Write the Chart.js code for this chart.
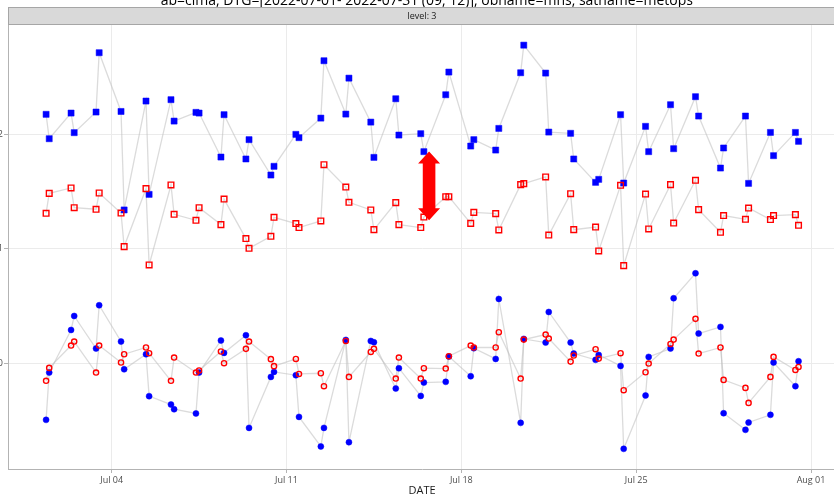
<!DOCTYPE html>
<html>
<head>
<meta charset="utf-8">
<script src="https://cdn.jsdelivr.net/npm/chart.js@4/dist/chart.umd.min.js"></script>
<style>
    html, body { margin: 0; padding: 0; background: #fff; overflow: hidden; }
    #wrap { width: 842px; height: 497px; }
</style>
</head>
<body>
<div id="wrap"><canvas id="myChart" width="842" height="497"></canvas></div>
<script>
const days = [
    '2022-07-01', '2022-07-02', '2022-07-03', '2022-07-04', '2022-07-05', '2022-07-06', '2022-07-07', '2022-07-08',
    '2022-07-09', '2022-07-10', '2022-07-11', '2022-07-12', '2022-07-13', '2022-07-14', '2022-07-15', '2022-07-16',
    '2022-07-17', '2022-07-18', '2022-07-19', '2022-07-20', '2022-07-21', '2022-07-22', '2022-07-23', '2022-07-24',
    '2022-07-25', '2022-07-26', '2022-07-27', '2022-07-28', '2022-07-29', '2022-07-30', '2022-07-31'
];
const cycles = ['09', '12'];

// one value per (day, cycle), in date order
const stdFg = [
    2.175, 1.962, 2.186, 2.015, 2.195, 2.713, 2.200, 1.340, 2.291, 1.476,
    2.303, 2.116, 2.192, 2.186, 1.802, 2.172, 1.785, 1.954, 1.645, 1.721,
    2.000, 1.971, 2.142, 2.643, 2.177, 2.491, 2.107, 1.799, 2.311, 1.994,
    2.006, 1.849, 2.346, 2.544, 1.898, 1.954, 1.863, 2.052, 2.538, 2.779,
    2.535, 2.020, 2.009, 1.785, 1.581, 1.607, 2.172, 1.575, 2.070, 1.849,
    2.259, 1.875, 2.329, 2.160, 1.706, 1.881, 2.160, 1.572, 2.017, 1.814,
    2.017, 1.939
];
const stdAn = [
    1.311, 1.485, 1.532, 1.360, 1.346, 1.488, 1.313, 1.020, 1.526, 0.860,
    1.558, 1.302, 1.250, 1.360, 1.212, 1.435, 1.090, 1.005, 1.110, 1.276,
    1.221, 1.186, 1.244, 1.735, 1.540, 1.407, 1.340, 1.168, 1.404, 1.212,
    1.186, 1.278, 1.456, 1.456, 1.223, 1.319, 1.308, 1.165, 1.561, 1.570,
    1.628, 1.121, 1.482, 1.168, 1.191, 0.982, 1.555, 0.854, 1.479, 1.174,
    1.561, 1.226, 1.599, 1.343, 1.145, 1.291, 1.258, 1.357, 1.256, 1.291,
    1.299, 1.206
];
const biasFg = [
    -0.493, -0.080, 0.292, 0.414, 0.130, 0.508, 0.191, -0.051, 0.080, -0.286,
    -0.359, -0.400, -0.437, -0.080, 0.200, 0.092, 0.246, -0.563, -0.118, -0.074,
    -0.103, -0.467, -0.725, -0.563, 0.205, -0.688, 0.196, 0.185, -0.219, -0.042,
    -0.284, -0.167, -0.161, 0.060, -0.112, 0.133, 0.039, 0.563, -0.519, 0.214,
    0.182, 0.449, 0.182, 0.086, 0.031, 0.074, -0.022, -0.746, -0.280, 0.057,
    0.130, 0.569, 0.787, 0.261, 0.319, -0.435, -0.580, -0.516, -0.449, 0.008,
    -0.199, 0.019
];
const biasAn = [
    -0.152, -0.039, 0.156, 0.191, -0.080, 0.156, 0.008, 0.080, 0.139, 0.089,
    -0.152, 0.051, -0.080, -0.062, 0.104, 0.002, 0.127, 0.191, 0.037, -0.024,
    0.039, -0.092, -0.086, -0.199, 0.196, -0.118, 0.100, 0.127, -0.132, 0.051,
    -0.132, -0.042, -0.045, 0.063, 0.156, 0.139, 0.139, 0.272, -0.132, 0.208,
    0.252, 0.217, 0.016, 0.069, 0.124, 0.042, 0.089, -0.234, -0.077, -0.001,
    0.170, 0.208, 0.389, 0.086, 0.139, -0.144, -0.214, -0.345, -0.118, 0.057,
    -0.057, -0.031
];

const tickDates = ['2022-07-04', '2022-07-11', '2022-07-18', '2022-07-25', '2022-08-01'];
const tickLabels = ['Jul 04', 'Jul 11', 'Jul 18', 'Jul 25', 'Aug 01'];
const yTicks = [0, 1, 2];

const arrowAt = ['2022-07-16', '17'];
const arrowSpan = [1.85, 1.25];

const titleText = 'ab=cima, DTG=[2022-07-01- 2022-07-31 (09, 12)], obname=mhs, satname=metops';
const panelText = 'level: 3';

const t0 = Date.parse('2022-07-01T00:00Z');
function toDay(d, hh = '00') {
    return (Date.parse(d + 'T' + hh + ':00Z') - t0) / 86400000;
}
const xs = days.flatMap(d => cycles.map(c => toDay(d, c)));
const pts = vals => vals.map((v, i) => ({ x: xs[i], y: v }));

const FONT = '"Open Sans", "Noto Sans", sans-serif';
const lineGray = 'rgba(190, 190, 190, 0.55)';

function lineSet(vals) {
    return { data: pts(vals), showLine: true, borderColor: lineGray, borderWidth: 1.3, pointRadius: 0, order: 10 };
}

const decor = {
    id: 'decor',
    beforeDraw(chart) {
        const { ctx, chartArea } = chart;
        ctx.save();
        // title, its upper half is cut off in the reference
        ctx.font = '14px ' + FONT;
        ctx.fillStyle = '#000';
        ctx.textAlign = 'right';
        ctx.textBaseline = 'alphabetic';
        ctx.fillText(titleText, 693, 5);
        // facet strip
        ctx.fillStyle = '#d9d9d9';
        ctx.fillRect(chartArea.left, 7, chart.width - chartArea.left, 18);
        ctx.strokeStyle = '#a6a6a6';
        ctx.lineWidth = 1;
        ctx.beginPath();
        ctx.moveTo(chartArea.left, 7.5); ctx.lineTo(chart.width, 7.5);
        ctx.moveTo(chartArea.left, 24.5); ctx.lineTo(chart.width, 24.5);
        ctx.moveTo(chartArea.left + 0.5, 7); ctx.lineTo(chartArea.left + 0.5, 25);
        ctx.stroke();
        ctx.font = '9px ' + FONT;
        ctx.fillStyle = '#1a1a1a';
        ctx.textAlign = 'center';
        ctx.textBaseline = 'middle';
        ctx.fillText(panelText, (chartArea.left + chartArea.right) / 2, 16);
        ctx.restore();
    },
    afterDatasetsDraw(chart) {
        const { ctx, scales } = chart;
        const x = scales.x.getPixelForValue(toDay(arrowAt[0], arrowAt[1]));
        const y1 = scales.y.getPixelForValue(arrowSpan[0]);
        const y2 = scales.y.getPixelForValue(arrowSpan[1]);
        const hw = 11, sw = 6.3, hl = 12;
        ctx.save();
        ctx.fillStyle = '#ff0000';
        ctx.beginPath();
        ctx.moveTo(x, y1);
        ctx.lineTo(x + hw, y1 + hl);
        ctx.lineTo(x + sw, y1 + hl);
        ctx.lineTo(x + sw, y2 - hl);
        ctx.lineTo(x + hw, y2 - hl);
        ctx.lineTo(x, y2);
        ctx.lineTo(x - hw, y2 - hl);
        ctx.lineTo(x - sw, y2 - hl);
        ctx.lineTo(x - sw, y1 + hl);
        ctx.lineTo(x - hw, y1 + hl);
        ctx.closePath();
        ctx.fill();
        ctx.restore();
    }
};

const ctx = document.getElementById('myChart').getContext('2d');
const myChart = new Chart(ctx, {
    type: 'scatter',
    data: {
        datasets: [
            lineSet(stdFg),
            lineSet(stdAn),
            lineSet(biasFg),
            lineSet(biasAn),
            {
                label: 'fg stdev', data: pts(stdFg), pointStyle: 'rect', pointRadius: 4.3,
                backgroundColor: '#0000ff', borderColor: '#0000ff', borderWidth: 0.5, order: 3
            },
            {
                label: 'an stdev', data: pts(stdAn), pointStyle: 'rect', pointRadius: 4.0,
                backgroundColor: 'rgba(0,0,0,0)', borderColor: '#ff0000', borderWidth: 1.4, order: 2
            },
            {
                label: 'fg bias', data: pts(biasFg), pointStyle: 'circle', pointRadius: 3,
                backgroundColor: '#0000ff', borderColor: '#0000ff', borderWidth: 0.5, order: 3
            },
            {
                label: 'an bias', data: pts(biasAn), pointStyle: 'circle', pointRadius: 2.6,
                backgroundColor: 'rgba(0,0,0,0)', borderColor: '#ff0000', borderWidth: 1.4, order: 2
            }
        ]
    },
    options: {
        responsive: false,
        animation: false,
        devicePixelRatio: 1,
        layout: { padding: { top: 25, right: 6, left: 0, bottom: 0 } },
        plugins: {
            legend: { display: false },
            tooltip: { enabled: false }
        },
        elements: { point: { hoverRadius: 0 } },
        scales: {
            x: {
                type: 'linear',
                min: -1.15,
                max: 32.0,
                afterBuildTicks: s => { s.ticks = tickDates.map(d => ({ value: toDay(d) })); },
                afterFit: s => { s.height = 28; },
                ticks: {
                    callback: (v, i) => tickLabels[i],
                    color: '#4d4d4d',
                    font: { family: FONT, size: 9 },
                    padding: 2,
                    maxRotation: 0,
                    autoSkip: false
                },
                grid: { color: '#ebebeb', tickColor: '#b3b3b3', tickLength: 4 },
                border: { color: '#b3b3b3', width: 1 },
                title: {
                    display: true,
                    text: 'DATE',
                    color: '#1a1a1a',
                    font: { family: FONT, size: 11 },
                    padding: { top: 0, bottom: 0 }
                }
            },
            y: {
                type: 'linear',
                min: -0.922,
                max: 2.955,
                afterBuildTicks: s => { s.ticks = yTicks.map(v => ({ value: v })); },
                afterFit: s => { s.width = 8; },
                ticks: {
                    callback: v => String(v),
                    color: '#4d4d4d',
                    font: { family: FONT, size: 9 },
                    padding: 1
                },
                grid: { color: '#ebebeb', tickColor: '#b3b3b3', tickLength: 4 },
                border: { color: '#b3b3b3', width: 1 }
            }
        }
    },
    plugins: [decor]
});
</script>
</body>
</html>
